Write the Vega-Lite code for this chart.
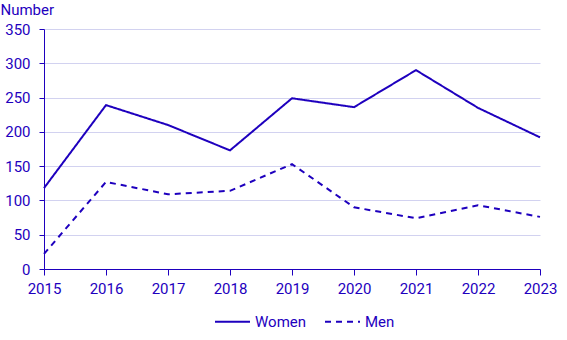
{
  "$schema": "https://vega.github.io/schema/vega-lite/v6.json",
  "width": 496,
  "height": 240,
  "autosize": {"type": "none"},
  "padding": {"left": 44, "top": 29, "right": 27, "bottom": 71},
  "background": "white",
  "config": {
    "view": {"stroke": null},
    "font": "Roboto",
    "axis": {"labelFont": "Roboto", "titleFont": "Roboto"},
    "legend": {"labelFont": "Roboto"}
  },
  "data": {
    "values": [
      {"year": "2015", "sex": "Women", "value": 118},
      {"year": "2016", "sex": "Women", "value": 239},
      {"year": "2017", "sex": "Women", "value": 210},
      {"year": "2018", "sex": "Women", "value": 173},
      {"year": "2019", "sex": "Women", "value": 249},
      {"year": "2020", "sex": "Women", "value": 236},
      {"year": "2021", "sex": "Women", "value": 290},
      {"year": "2022", "sex": "Women", "value": 235},
      {"year": "2023", "sex": "Women", "value": 192},
      {"year": "2015", "sex": "Men", "value": 22},
      {"year": "2016", "sex": "Men", "value": 127},
      {"year": "2017", "sex": "Men", "value": 109},
      {"year": "2018", "sex": "Men", "value": 114},
      {"year": "2019", "sex": "Men", "value": 153},
      {"year": "2020", "sex": "Men", "value": 90},
      {"year": "2021", "sex": "Men", "value": 74},
      {"year": "2022", "sex": "Men", "value": 93},
      {"year": "2023", "sex": "Men", "value": 76}
    ]
  },
  "mark": {"type": "line", "strokeWidth": 2, "color": "#1e00be"},
  "encoding": {
    "x": {
      "field": "year",
      "type": "ordinal",
      "scale": {"type": "point", "padding": 0},
      "axis": {
        "title": null,
        "labelAngle": 0,
        "labelFontSize": 15,
        "labelColor": "#1e00be",
        "domainColor": "#1e00be",
        "tickColor": "#1e00be",
        "tickSize": 6,
        "labelPadding": 6,
        "grid": false
      }
    },
    "y": {
      "field": "value",
      "type": "quantitative",
      "scale": {"domain": [0, 350], "nice": false},
      "axis": {
        "values": [0, 50, 100, 150, 200, 250, 300, 350],
        "title": "Number",
        "titleAngle": 0,
        "titleAlign": "left",
        "titleBaseline": "alphabetic",
        "titleX": -44,
        "titleY": -15,
        "titleFontSize": 15,
        "titleFontWeight": "normal",
        "titleColor": "#1e00be",
        "labelFontSize": 15,
        "labelColor": "#1e00be",
        "domainColor": "#1e00be",
        "tickColor": "#1e00be",
        "tickSize": 5,
        "labelPadding": 9,
        "gridColor": "#d2d2f0",
        "gridWidth": 1
      }
    },
    "strokeDash": {
      "field": "sex",
      "type": "nominal",
      "scale": {"domain": ["Women", "Men"], "range": [[1, 0], [6, 5]]},
      "legend": {
        "title": null,
        "orient": "none",
        "direction": "horizontal",
        "legendX": 170,
        "legendY": 274,
        "symbolType": "stroke",
        "symbolSize": 1225,
        "symbolStrokeWidth": 2,
        "symbolStrokeColor": "#1e00be",
        "labelFontSize": 15,
        "labelColor": "#1e00be",
        "columnPadding": 14,
        "labelOffset": 4
      }
    }
  }
}
